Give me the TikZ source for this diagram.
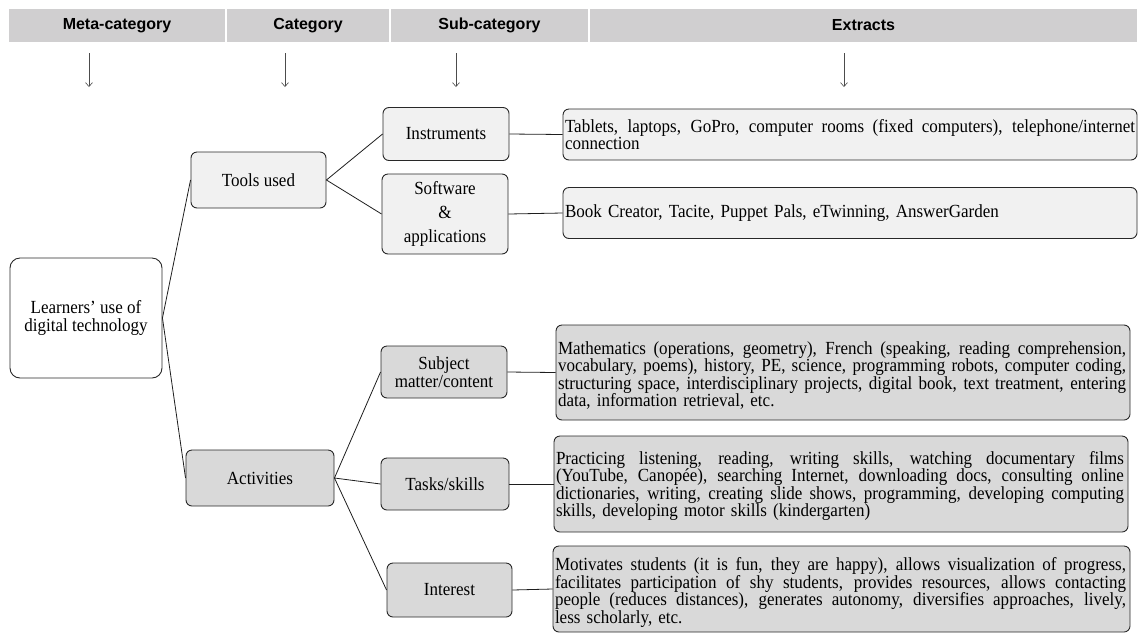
\documentclass[tikz,border=0pt]{standalone}
\usepackage{fontspec}
\setmainfont{Liberation Serif}[FakeStretch=0.92]
\newfontfamily\hdrfont{Liberation Sans}
\usetikzlibrary{arrows.meta}
\setlength{\parindent}{0pt}
\definecolor{hdrgray}{RGB}{208,207,208}
\definecolor{lightbox}{RGB}{241,241,241}
\definecolor{darkbox}{RGB}{217,217,217}
\definecolor{bordercol}{RGB}{40,40,40}
\definecolor{linecol}{RGB}{30,30,30}
\newcommand{\jline}[2]{{\spaceskip=0.25em plus 0.6em minus 0.05em\xspaceskip=0.25em plus 0.6em minus 0.05em\makebox[#1][s]{#2}}}
\begin{document}
\begin{tikzpicture}[x=1pt,y=-1pt,
  box/.style={draw=bordercol, line width=0.9pt, rounded corners=6pt, align=center, inner sep=2pt,
    font={\fontsize{18.5}{17.5}\selectfont\lineskiplimit=-20pt\relax}},
  lbox/.style={box, fill=lightbox},
  dbox/.style={box, fill=darkbox},
  extract/.style={draw=bordercol, line width=0.9pt, rounded corners=6pt, inner xsep=2pt, inner ysep=2pt, align=left,
    font={\fontsize{18.5}{17.5}\selectfont\lineskiplimit=-20pt\relax}},
  hdr/.style={fill=hdrgray, inner sep=0pt, minimum height=33pt, font={\hdrfont\bfseries\fontsize{16}{18}\selectfont}},
  conn/.style={draw=linecol, line width=0.8pt},
  darrow/.style={draw=gray!60!black, line width=0.6pt, -{Straight Barb[length=4pt,width=7pt]}}
]
\useasboundingbox (0,0) rectangle (1138,633);

% header
\node[hdr, minimum width=216pt] (h1) at (117,25.5) {Meta-category};
\node[hdr, minimum width=162pt] (h2) at (308,25.5) {Category};
\node[hdr, minimum width=197pt] (h3) at (489.5,25.5) {Sub-category};
\node[hdr, minimum width=547pt] (h4) at (863.5,25.5) {Extracts};

% column arrows
\coordinate (a1s) at (89,53);  \coordinate (a1e) at (89,87);
\coordinate (a2s) at (285,53); \coordinate (a2e) at (285,87);
\coordinate (a3s) at (456,53); \coordinate (a3e) at (456,87);
\coordinate (a4s) at (844,53); \coordinate (a4e) at (844,87);
\draw[darrow] (a1s) -- (a1e);
\draw[darrow] (a2s) -- (a2e);
\draw[darrow] (a3s) -- (a3e);
\draw[darrow] (a4s) -- (a4e);

% meta-category
\node[box, fill=white, rounded corners=10pt, minimum width=152pt, minimum height=120pt] (learn) at (86,318)
  {Learners’ use of\\digital technology};

% categories
\node[lbox, minimum width=135pt, minimum height=56pt] (tools) at (258.5,180) {Tools used};
\node[dbox, minimum width=148pt, minimum height=56pt] (act) at (260,478) {Activities};

% sub-categories
\node[lbox, minimum width=126pt, minimum height=53pt] (instr) at (446,134) {Instruments};
\node[lbox, minimum width=126pt, minimum height=80pt,
  font={\fontsize{18.5}{24}\selectfont}] (soft) at (445,214) {Software\\\&\\applications};
\node[dbox, minimum width=126pt, minimum height=52pt] (subj) at (444,372) {Subject\\matter/content};
\node[dbox, minimum width=128pt, minimum height=52pt] (tasks) at (445,484) {Tasks/skills};
\node[dbox, minimum width=125pt, minimum height=54pt] (inter) at (449.5,590) {Interest};

% extracts
\node[extract, fill=lightbox, text width=570pt, minimum height=51pt] (ex1) at (850,134.5)
  {\jline{570pt}{Tablets, laptops, GoPro, computer rooms (fixed computers), telephone/internet}\\connection};
\node[extract, fill=lightbox, text width=570pt, minimum height=51pt] (ex2) at (850,213)
  {Book Creator, Tacite, Puppet Pals, eTwinning, AnswerGarden};
\node[extract, fill=darkbox, text width=570pt, text height=19pt, minimum height=95pt] (ex3) at (843,372.5)
  {\jline{568pt}{Mathematics (operations, geometry), French (speaking, reading comprehension,}\\
   \jline{568pt}{vocabulary, poems), history, PE, science, programming robots, computer coding,}\\
   \jline{568pt}{structuring space, interdisciplinary projects, digital book, text treatment, entering}\\
   data, information retrieval, etc.};
\node[extract, fill=darkbox, text width=570pt, text height=17pt, minimum height=96pt] (ex4) at (841,484)
  {\jline{568pt}{Practicing listening, reading, writing skills, watching documentary films}\\
   \jline{568pt}{(YouTube, Canopée), searching Internet, downloading docs, consulting online}\\
   \jline{568pt}{dictionaries, writing, creating slide shows, programming, developing computing}\\
   skills, developing motor skills (kindergarten)};
\node[extract, fill=darkbox, text width=573pt, text height=19.5pt, minimum height=86pt] (ex5) at (841.5,589)
  {\jline{571pt}{Motivates students (it is fun, they are happy), allows visualization of progress,}\\
   \jline{571pt}{facilitates participation of shy students, provides resources, allows contacting}\\
   \jline{571pt}{people (reduces distances), generates autonomy, diversifies approaches, lively,}\\
   less scholarly, etc.};

% connectors
\draw[conn] (learn.east) -- (tools.west);
\draw[conn] (learn.east) -- (act.west);
\draw[conn] (tools.east) -- (instr.west);
\draw[conn] (tools.east) -- (soft.west);
\draw[conn] (act.east) -- (subj.west);
\draw[conn] (act.east) -- (tasks.west);
\draw[conn] (act.east) -- (inter.west);
\draw[conn] (instr.east) -- (ex1.west);
\draw[conn] (soft.east) -- (ex2.west);
\draw[conn] (subj.east) -- (ex3.west);
\draw[conn] (tasks.east) -- (ex4.west);
\draw[conn] (inter.east) -- (ex5.west);
\end{tikzpicture}
\end{document}
